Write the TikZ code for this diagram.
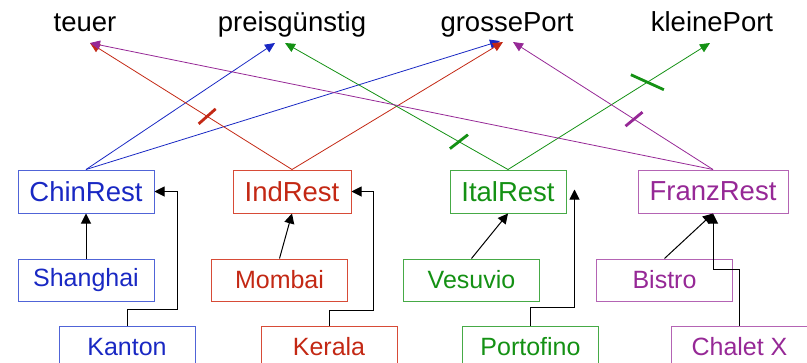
\documentclass[tikz,border=0pt]{standalone}
\usepackage{fontspec}
\setmainfont{Liberation Sans}
\usetikzlibrary{arrows.meta,calc}
\definecolor{cblue}{RGB}{25,40,195}
\definecolor{cred}{RGB}{195,40,20}
\definecolor{cgreen}{RGB}{20,145,20}
\definecolor{cpurple}{RGB}{150,40,150}
\definecolor{bblue}{RGB}{80,100,215}
\definecolor{bred}{RGB}{215,75,55}
\definecolor{bgreen}{RGB}{70,170,70}
\definecolor{bpurple}{RGB}{180,100,180}
\begin{document}
\begin{tikzpicture}[x=1pt,y=-1pt,
 box/.style={draw,line width=1pt,inner sep=0pt,minimum height=43pt,font=\fontsize{27.5}{30}\selectfont},
 sub/.style={draw,line width=1pt,inner sep=0pt,minimum width=136pt,minimum height=42pt,font=\fontsize{25}{28}\selectfont},
 lbl/.style={anchor=base,inner sep=0pt,font=\fontsize{27.5}{30}\selectfont},
 link/.style={line width=0.8pt,-{Triangle[length=10pt,width=9pt]}},
 inh/.style={black,line width=1pt,-{Triangle[length=10pt,width=10pt]}},
 tick/.style={line width=2.8pt}]
\useasboundingbox (0,0) rectangle (807,362);

% top labels
\node[lbl] (teuer) at (85,31) {teuer};
\node[lbl] (preis) at (292,31) {preisgünstig};
\node[lbl] (gross) at (507,31) {grossePort};
\node[lbl] (kleine) at (712,31) {kleinePort};

\coordinate (tT) at ($(teuer.base)+(5,12)$);
\coordinate (pB) at ($(preis.base)+(-17,12)$);
\coordinate (pG) at ($(preis.base)+(-7,12)$);
\coordinate (gB) at ($(gross.base)+(-7,10)$);
\coordinate (gR) at ($(gross.base)+(-4,11)$);
\coordinate (gP) at ($(gross.base)+(6,11)$);
\coordinate (kG) at ($(kleine.base)+(-2,12)$);

% class boxes
\node[box,draw=bblue,text=cblue,minimum width=136pt] (chin) at (86,191.5) {ChinRest};
\node[box,draw=bred,text=cred,minimum width=118pt] (ind) at (292,191.5) {IndRest};
\node[box,draw=bgreen,text=cgreen,minimum width=116pt] (ital) at (508,191.5) {ItalRest};
\node[box,draw=bpurple,text=cpurple,minimum width=150pt] (franz) at (713,191.5) {FranzRest};

\node[sub,draw=bblue,text=cblue] (shanghai) at (86,280) {Shanghai};
\node[sub,draw=bred,text=cred] (mombai) at (279.5,280) {Mombai};
\node[sub,draw=bgreen,text=cgreen] (vesuvio) at (471.5,280) {Vesuvio};
\node[sub,draw=bpurple,text=cpurple] (bistro) at (664.5,280) {Bistro};

\node[sub,draw=bblue,text=cblue] (kanton) at (127,347) {Kanton};
\node[sub,draw=bred,text=cred] (kerala) at (329,347) {Kerala};
\node[sub,draw=bgreen,text=cgreen] (porto) at (530.5,347) {Portofino};
\node[sub,draw=bpurple,text=cpurple] (chalet) at (739.5,347) {Chalet X};

% coloured links
\draw[link,cblue] (chin.north) -- (pB);
\draw[link,cblue] (chin.north) -- (gB);
\draw[link,cred] (ind.north) -- (tT);
\draw[link,cred] (ind.north) -- (gR);
\draw[link,cgreen] (ital.north) -- (pG);
\draw[link,cgreen] (ital.north) -- (kG);
\draw[link,cpurple] (franz.north) -- (tT);
\draw[link,cpurple] (franz.north) -- (gP);

% ticks
\draw[tick,cred] ($(ind.north)!0.42!(tT)$) +(-8.5,7.5) -- +(8.5,-7.5);
\draw[tick,cgreen] ($(ital.north)!0.22!(pG)$) +(-9,7) -- +(9,-7);
\draw[tick,cgreen] ($(ital.north)!0.69!(kG)$) +(-16.5,-7.5) -- +(16.5,7.5);
\draw[tick,cpurple] ($(franz.north)!0.395!(gP)$) +(-8.5,7) -- +(8.5,-7);

% inheritance
\coordinate (pE) at ($(ital.east)+(8,-2)$);
\draw[inh] (shanghai.north) -- (chin.south);
\draw[inh] (kanton.north) -- ++(0,-16) -| ($(chin.east)+(23,0)$) -- (chin.east);
\draw[inh] (mombai.north) -- (ind.south);
\draw[inh] (kerala.north) -- ++(0,-15) -| ($(ind.east)+(22,0)$) -- (ind.east);
\draw[inh] (vesuvio.north) -- (ital.south);
\draw[inh] (porto.north) -- ++(0,-18) -| (pE);
\draw[inh] (bistro.north) -- (franz.south);
\draw[inh] (chalet.north) -- ++(0,-56) -| (franz.south);
\end{tikzpicture}
\end{document}
